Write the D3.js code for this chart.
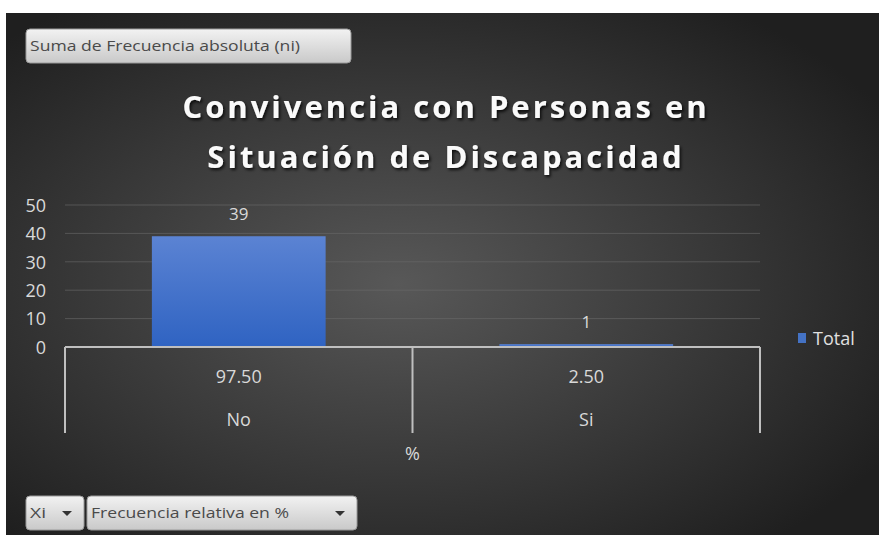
<html>
<head>
<meta charset="utf-8">
<script src="https://cdn.jsdelivr.net/npm/d3@7"></script>
<style>
  body { margin: 0; background: #fff; }
  svg { display: block; }
  text { font-family: "Open Sans", "Noto Sans", sans-serif; }
</style>
</head>
<body>
<script>
// data
var categories = ["No", "Si"];
var percentLabels = ["97.50", "2.50"];
var values = [39, 1];
var yTicks = [0, 10, 20, 30, 40, 50];
var seriesName = "Total";
var outerLabel = "%";

var W = 879, H = 535;
var svg = d3.select("body").append("svg").attr("width", W).attr("height", H);

var defs = svg.append("defs");
var bg = defs.append("radialGradient").attr("id", "bg")
  .attr("cx", "45%").attr("cy", "52%").attr("r", "65%");
bg.append("stop").attr("offset", "0%").attr("stop-color", "#585858");
bg.append("stop").attr("offset", "100%").attr("stop-color", "#1f1f1f");

var barGrad = defs.append("linearGradient").attr("id", "bar").attr("x1", 0).attr("y1", 0).attr("x2", 0).attr("y2", 1);
barGrad.append("stop").attr("offset", "0%").attr("stop-color", "#5b83d3");
barGrad.append("stop").attr("offset", "100%").attr("stop-color", "#2f63c2");

var btn = defs.append("linearGradient").attr("id", "btn").attr("x1", 0).attr("y1", 0).attr("x2", 0).attr("y2", 1);
btn.append("stop").attr("offset", "0%").attr("stop-color", "#f2f2f2");
btn.append("stop").attr("offset", "100%").attr("stop-color", "#c9c9c9");

var shadow = defs.append("filter").attr("id", "shadow").attr("x", "-10%").attr("y", "-30%").attr("width", "120%").attr("height", "160%");
shadow.append("feDropShadow").attr("dx", 1.5).attr("dy", 2).attr("stdDeviation", 1.5)
  .attr("flood-color", "#000").attr("flood-opacity", 0.8);

// chart background
svg.append("rect").attr("x", 6).attr("y", 13).attr("width", W - 6).attr("height", H - 13)
  .attr("fill", "url(#bg)");

// field buttons
function button(x, y, w, h, label, textW, arrow) {
  var g = svg.append("g");
  g.append("rect").attr("x", x).attr("y", y).attr("width", w).attr("height", h)
    .attr("rx", 4).attr("fill", "url(#btn)").attr("stroke", "#9a9a9a");
  g.append("text").attr("x", x + 4).attr("y", y + h / 2 + 5)
    .attr("font-size", 15).attr("fill", "#4a4a4a")
    .attr("textLength", textW).attr("lengthAdjust", "spacingAndGlyphs")
    .text(label);
  if (arrow) {
    var ax = x + w - 17, ay = y + h / 2 - 2;
    g.append("path").attr("d", "M" + (ax - 5) + "," + ay + "L" + (ax + 5) + "," + ay + "L" + ax + "," + (ay + 5) + "Z")
      .attr("fill", "#333");
  }
}
button(26, 29, 325, 34, "Suma de Frecuencia absoluta (ni)", 270, false);
button(26, 496, 58, 34, "Xi", 16, true);
button(87, 496, 270, 34, "Frecuencia relativa en %", 198, true);

// title
var title = svg.append("text").attr("text-anchor", "middle").attr("fill", "#fafafa")
  .attr("font-size", 31).attr("font-weight", "bold").attr("letter-spacing", 3)
  .attr("filter", "url(#shadow)");
title.append("tspan").attr("x", 446).attr("y", 118).text("Convivencia con Personas en");
title.append("tspan").attr("x", 446).attr("y", 168).text("Situación de Discapacidad");

// scales
var plotL = 65, plotR = 760, y0 = 347, y50 = 205;
var x = d3.scaleBand().domain(categories).range([plotL, plotR]).paddingInner(0).paddingOuter(0);
var y = d3.scaleLinear().domain([0, 50]).range([y0, y50]);

// gridlines
svg.append("g").selectAll("line").data(yTicks.filter(function(d) { return d > 0; })).enter().append("line")
  .attr("x1", plotL).attr("x2", plotR)
  .attr("y1", function(d) { return y(d); }).attr("y2", function(d) { return y(d); })
  .attr("stroke", "#6a6a6a").attr("stroke-width", 1).attr("opacity", 0.6);

// y axis labels
var yAxis = svg.append("g").attr("transform", "translate(" + 46 + ",0)")
  .call(d3.axisLeft(y).tickValues(yTicks).tickSize(0).tickPadding(0));
yAxis.select(".domain").remove();
yAxis.selectAll("text").attr("fill", "#d9d9d9").attr("font-size", 18).attr("font-family", "'Open Sans', sans-serif")
  .attr("dy", "0.35em");

// bars
var bw = x.bandwidth() * 0.5;
svg.append("g").selectAll("rect").data(values).enter().append("rect")
  .attr("x", function(d, i) { return x(categories[i]) + (x.bandwidth() - bw) / 2; })
  .attr("y", function(d) { return y(d); })
  .attr("width", bw)
  .attr("height", function(d) { return y0 - y(d); })
  .attr("fill", "url(#bar)");

// value labels
svg.append("g").selectAll("text").data(values).enter().append("text")
  .attr("x", function(d, i) { return x(categories[i]) + x.bandwidth() / 2; })
  .attr("y", function(d) { return y(d) - 16; })
  .attr("text-anchor", "middle").attr("fill", "#d9d9d9").attr("font-size", 17)
  .text(function(d) { return d; });

// x axis (multi-level)
var axisG = svg.append("g").attr("stroke", "#bfbfbf").attr("stroke-width", 2);
axisG.append("line").attr("x1", plotL).attr("x2", plotR).attr("y1", y0).attr("y2", y0);
var bounds = [plotL].concat(categories.map(function(c) { return x(c) + x.bandwidth(); }));
axisG.selectAll("line.v").data(bounds).enter().append("line").attr("class", "v")
  .attr("x1", function(d) { return d; }).attr("x2", function(d) { return d; })
  .attr("y1", y0).attr("y2", 433);

svg.append("g").selectAll("text").data(percentLabels).enter().append("text")
  .attr("x", function(d, i) { return x(categories[i]) + x.bandwidth() / 2; })
  .attr("y", 383).attr("text-anchor", "middle").attr("fill", "#d9d9d9").attr("font-size", 18)
  .text(function(d) { return d; });
svg.append("g").selectAll("text").data(categories).enter().append("text")
  .attr("x", function(d) { return x(d) + x.bandwidth() / 2; })
  .attr("y", 426).attr("text-anchor", "middle").attr("fill", "#d9d9d9").attr("font-size", 18)
  .text(function(d) { return d; });
svg.append("text").attr("x", (plotL + plotR) / 2).attr("y", 460).attr("text-anchor", "middle")
  .attr("fill", "#d9d9d9").attr("font-size", 18).text(outerLabel);

// legend
svg.append("rect").attr("x", 798).attr("y", 333).attr("width", 8).attr("height", 10).attr("fill", "#4472c4");
svg.append("text").attr("x", 813).attr("y", 345).attr("fill", "#e0e0e0").attr("font-size", 18).text(seriesName);
</script>
</body>
</html>
